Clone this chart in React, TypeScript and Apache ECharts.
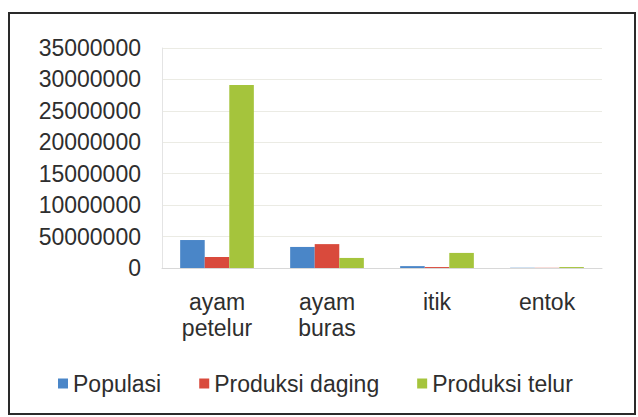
import React, { useEffect, useRef } from "react";
import * as echarts from "echarts";

const categories = ["ayam\npetelur", "ayam\nburas", "itik", "entok"];
const populasi = [4450000, 3350000, 300000, 40000];
const produksiDaging = [1750000, 3800000, 150000, 30000];
const produksiTelur = [29100000, 1600000, 2400000, 150000];
const yTickLabels = ["0", "50000000", "10000000", "15000000", "20000000", "25000000", "30000000", "35000000"];
const seriesNames = ["Populasi", "Produksi daging", "Produksi telur"];

export default function App() {
  const ref = useRef<HTMLDivElement>(null);
  useEffect(() => {
    if (!ref.current) return;
    const chart = echarts.init(ref.current, null, { renderer: "svg" });
    const font = "'Liberation Sans', Arial, sans-serif";
    chart.setOption({
      animation: false,
      backgroundColor: "#ffffff",
      color: ["#4a86c8", "#d94a3c", "#a5c43c"],
      textStyle: { fontFamily: font },
      graphic: [
        {
          type: "rect",
          shape: { x: 9, y: 13, width: 626, height: 401 },
          style: { fill: "none", stroke: "#2a2a2a", lineWidth: 2 },
          silent: true,
        },
      ],
      grid: { left: 162, right: 36, top: 48, bottom: 149, containLabel: false },
      legend: {
        data: seriesNames,
        left: 53,
        top: 367,
        itemWidth: 10,
        itemHeight: 10,
        itemGap: 38,
        icon: "rect",
        textStyle: { fontSize: 23, color: "#2e2e2e", fontFamily: font },
      },
      xAxis: {
        type: "category",
        data: categories,
        axisLine: { show: true, lineStyle: { color: "#d8d8d8" } },
        axisTick: { show: false },
        axisLabel: { fontSize: 23, color: "#2e2e2e", margin: 21, lineHeight: 26, fontFamily: font },
      },
      yAxis: {
        type: "value",
        min: 0,
        max: 35000000,
        interval: 5000000,
        axisLine: { show: true, lineStyle: { color: "#e4e4e4" } },
        axisTick: { show: false },
        splitLine: { lineStyle: { color: "#ebebe4" } },
        axisLabel: {
          fontSize: 23,
          color: "#2e2e2e",
          margin: 21,
          fontFamily: font,
          formatter: (v: number) => yTickLabels[Math.round(v / 5000000)] ?? String(v),
        },
      },
      series: [
        { name: seriesNames[0], type: "bar", data: populasi, barGap: "0%", barCategoryGap: "33%" },
        { name: seriesNames[1], type: "bar", data: produksiDaging, barGap: "0%", barCategoryGap: "33%" },
        { name: seriesNames[2], type: "bar", data: produksiTelur, barGap: "0%", barCategoryGap: "33%" },
      ],
    });
    return () => chart.dispose();
  }, []);
  return (
    <div
      ref={ref}
      style={{ position: "fixed", left: 0, top: 0, width: 638, height: 417 }}
    />
  );
}
